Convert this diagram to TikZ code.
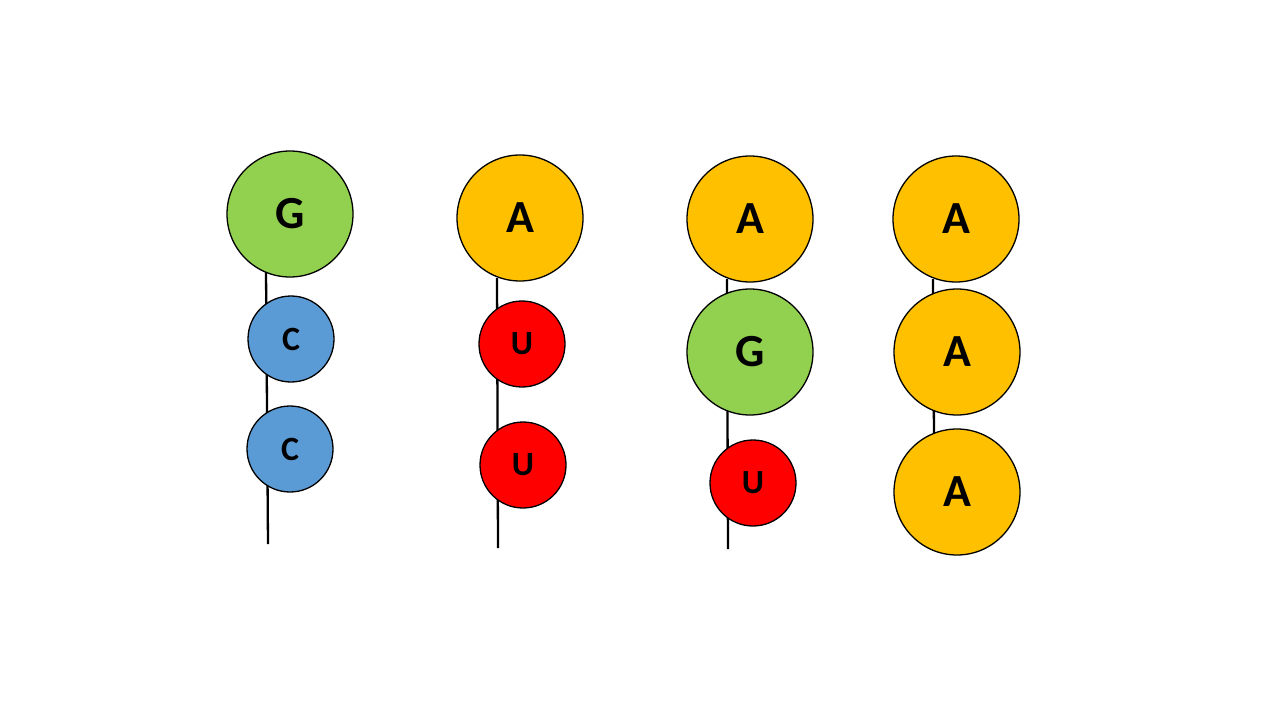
\documentclass[tikz,border=0pt]{standalone}
\usepackage{fontspec}
\setmainfont{Carlito}[BoldFont={Carlito Bold}]
\definecolor{ngreen}{HTML}{92D050}
\definecolor{nblue}{HTML}{5B9BD5}
\definecolor{norange}{HTML}{FFC000}
\definecolor{nred}{HTML}{FF0000}
\tikzset{
  big/.style={circle,draw=black,line width=1.3pt,minimum size=126pt,inner sep=0pt,font=\fontsize{46}{46}\selectfont\bfseries},
  small/.style={circle,draw=black,line width=1.3pt,minimum size=86pt,inner sep=0pt,font=\fontsize{34}{34}\selectfont\bfseries},
  strand/.style={line width=2.3pt,black}
}
\begin{document}
\begin{tikzpicture}[x=1pt,y=-1pt]
\useasboundingbox (0,0) rectangle (1280,720);
% strands
\coordinate (t1) at (266,270); \coordinate (e1) at (268,544);
\coordinate (t2) at (497,278); \coordinate (e2) at (498,548);
\coordinate (t3) at (727,279); \coordinate (e3) at (728,549);
\coordinate (t4) at (933,279); \coordinate (e4) at (934,436);
\draw[strand] (t1) -- (e1);
\draw[strand] (t2) -- (e2);
\draw[strand] (t3) -- (e3);
\draw[strand] (t4) -- (e4);
% column 1
\node[big,fill=ngreen] (g1) at (290,214) {G};
\node[small,fill=nblue] (c1) at (291,339) {C};
\node[small,fill=nblue] (c2) at (290,449) {C};
% column 2
\node[big,fill=norange] (a2) at (520,218) {A};
\node[small,fill=nred] (u21) at (522,344) {U};
\node[small,fill=nred] (u22) at (523,465) {U};
% column 3
\node[big,fill=norange] (a3) at (750,219) {A};
\node[big,fill=ngreen] (g3) at (750,352) {G};
\node[small,fill=nred] (u3) at (753,483) {U};
% column 4
\node[big,fill=norange] (a41) at (956,219) {A};
\node[big,fill=norange] (a42) at (957,352) {A};
\node[big,fill=norange] (a43) at (957,492) {A};
\end{tikzpicture}
\end{document}
